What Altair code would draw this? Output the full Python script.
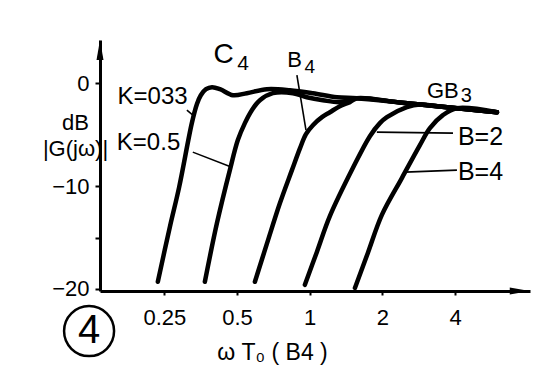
import altair as alt
import pandas as pd

FONT = "Liberation Sans"

# ---- data (x = omega*T0, y = |G(jw)| in dB) ----
# common high-frequency envelope (GB3) that every curve joins
env_x = [1.568, 2.36, 3.45, 5.96]
env_db = [-1.46, -1.87, -2.26, -2.82]

# K = 0.33 (C4)
c1_x = [0.235, 0.264, 0.288, 0.325, 0.341, 0.354, 0.372, 0.394, 0.425, 0.481, 0.549, 0.665, 0.828, 1.031, 1.296]
c1_db = [-19.3, -13.9, -10.1, -3.88, -2.04, -1.17, -0.58, -0.39, -0.58, -1.17, -0.97, -0.58, -0.68, -0.97, -1.36]
# K = 0.5
c2_x = [0.368, 0.413, 0.467, 0.504, 0.539, 0.576, 0.622, 0.704, 0.852, 0.973, 1.134, 1.334]
c2_db = [-19.3, -13.6, -8.45, -5.53, -3.88, -2.62, -1.65, -0.97, -0.97, -1.36, -1.65, -1.84]
# B4
c3_x = [0.593, 0.665, 0.753, 0.844, 0.912, 0.965, 1.031, 1.124, 1.213, 1.333, 1.467]
c3_db = [-19.3, -15.6, -11.65, -8.45, -6.31, -4.95, -4.08, -3.3, -2.82, -2.23, -1.84]
# B = 2
c4_x = [0.955, 1.071, 1.213, 1.509, 1.775, 1.953, 2.088, 2.526, 2.86]
c4_db = [-19.6, -16.4, -12.9, -8.25, -5.15, -3.88, -3.3, -2.33, -2.07]
# B = 4
c5_x = [1.539, 1.741, 1.99, 2.408, 2.86, 3.146, 3.56, 4.07]
c5_db = [-19.9, -16.5, -12.8, -9.22, -6.02, -4.37, -3.11, -2.43]

x_ticks = [0.25, 0.5, 1, 2, 4]
y_ticks = [0, -10, -15, -20]

rows = []
for name, xs_, ys_ in [("c1", c1_x, c1_db), ("c2", c2_x, c2_db), ("c3", c3_x, c3_db),
                       ("c4", c4_x, c4_db), ("c5", c5_x, c5_db)]:
    pts = list(zip(xs_, ys_))
    last = xs_[-1]
    pts += [(ex, ed) for ex, ed in zip(env_x, env_db) if ex > last * 1.05]
    for i, (a, b) in enumerate(pts):
        rows.append({"curve": name, "i": i, "x": a, "db": b})
curves = pd.DataFrame(rows)

# leader lines (label -> curve), in data coordinates
leaders = pd.DataFrame({
    "x":   [0.310, 0.328, 0.885, 1.897, 2.48],
    "db":  [-2.62, -6.70, 0.78, -4.76, -8.64],
    "x2":  [0.332, 0.476, 0.965, 3.92, 4.07],
    "db2": [-3.20, -8.16, -4.56, -4.85, -8.45],
})

W, H = 430, 251
X_MIN, X_MAX = 0.1354, 8.17
Y_MIN, Y_MAX = -20.2, 4.2

xs = alt.Scale(type="log", domain=[X_MIN, X_MAX], nice=False)
ys = alt.Scale(domain=[Y_MIN, Y_MAX], nice=False, zero=False)

xaxis = alt.Axis(values=x_ticks, format="~g", grid=False, labelFontSize=22, labelPadding=12,
                 tickSize=4, tickWidth=2, domainWidth=3, labelFlush=False,
                 titleFontSize=23, titleFontWeight="normal", titleX=172, titleY=61,
                 titleAlign="center", titleBaseline="middle")
yaxis = alt.Axis(values=y_ticks, grid=False, labelFontSize=22, labelPadding=6,
                 labelExpr="datum.value == -15 ? '' : datum.label",
                 tickSize=5, tickWidth=2, domainWidth=3, labelFlush=False,
                 titleAngle=0, titleFontSize=22, titleFontWeight="normal",
                 titleX=-25, titleY=72, titleAlign="center", titleBaseline="top",
                 titleLineHeight=26)

X = alt.X("x:Q", scale=xs, axis=xaxis, title="ω T₀ ( B4 )")
Y = alt.Y("db:Q", scale=ys, axis=yaxis, title=["dB", "|G(jω)|"])

lines = alt.Chart(curves).mark_line(
    color="black", strokeWidth=4.5, interpolate="catmull-rom", strokeCap="round", strokeJoin="round"
).encode(x=X, y=Y, detail="curve:N", order="i:Q")

rules = alt.Chart(leaders).mark_rule(color="black", strokeWidth=1.6).encode(
    x=X, y=Y, x2="x2:Q", y2="db2:Q")


def label(text, x, db, size, align="center", weight="normal"):
    df = pd.DataFrame({"x": [x], "db": [db], "t": [text]})
    return alt.Chart(df).mark_text(
        font=FONT, fontSize=size, align=align, baseline="middle", color="black", fontWeight=weight
    ).encode(x=X, y=Y, text="t:N")


texts = [
    label("C", 0.440, 2.72, 28),
    label("4", 0.530, 1.84, 21),
    label("B", 0.866, 2.23, 22),
    label("4", 1.0, 1.55, 19),
    label("GB", 3.56, -0.78, 22),
    label("3", 4.45, -1.26, 20),
    label("K=033", 0.16, -1.36, 24, align="left"),
    label("K=0.5", 0.159, -5.83, 24, align="left"),
    label("B=2", 4.11, -5.24, 25, align="left"),
    label("B=4", 4.11, -8.64, 25, align="left"),
    label("4", 0.122, -24.1, 40),
]

circle = alt.Chart(pd.DataFrame({"x": [0.122], "db": [-24.1]})).mark_point(
    shape="circle", size=2500, filled=False, color="black", strokeWidth=2.5, opacity=1
).encode(x=X, y=Y)

arrows = alt.Chart(pd.DataFrame({"x": [X_MIN, 7.41], "db": [3.23, Y_MIN], "s": ["up", "right"]})).mark_point(
    filled=True, color="black", size=400, opacity=1
).encode(
    x=X, y=Y,
    shape=alt.Shape("s:N", scale=alt.Scale(domain=["up", "right"],
                                           range=["M0,-1L0.35,1L-0.35,1Z", "M1,0L-1,0.35L-1,-0.35Z"]),
                    legend=None)
)

chart = alt.layer(lines, rules, circle, arrows, *texts).properties(
    width=W, height=H,
    padding={"left": 100, "top": 40, "right": 12, "bottom": 79},
    autosize=alt.AutoSizeParams(type="none"),
    background="white",
).configure_view(stroke=None).configure_axis(
    labelFont=FONT, titleFont=FONT, labelColor="black", titleColor="black",
    domainColor="black", tickColor="black"
)

chart.save("out.html", embed_options={"renderer": "svg", "actions": False})
